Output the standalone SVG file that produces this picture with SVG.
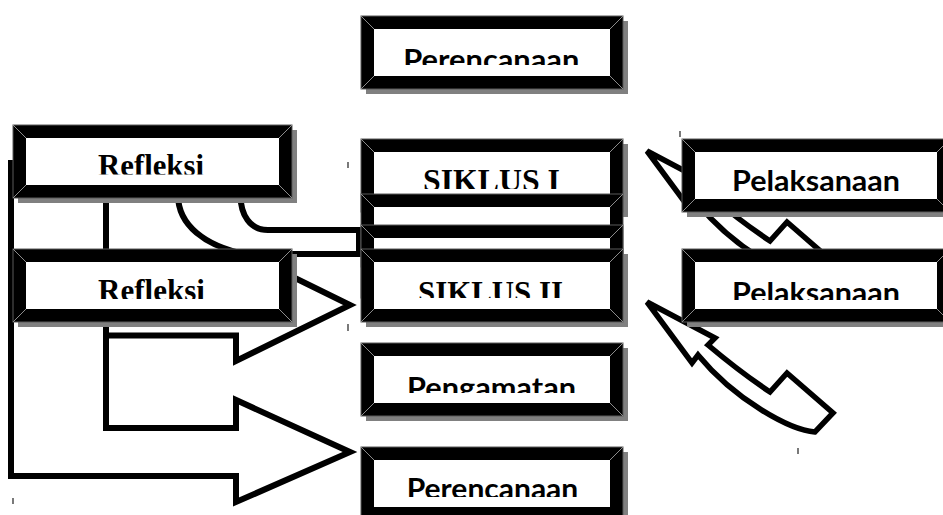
<svg xmlns="http://www.w3.org/2000/svg" width="943" height="515" viewBox="0 0 943 515">
<style>
.sh{fill:#808080}
.fr{fill:#000;stroke:#5a5a5a;stroke-width:1}
.in{fill:#fff}
.bv{stroke:#8c8c8c;stroke-width:1;fill:none}
.ar{fill:#fff;stroke:#000;stroke-width:6;stroke-linejoin:miter}
.ar2{fill:#fff;stroke:#000;stroke-width:5.5;stroke-linejoin:miter}
.sf{font-family:"Liberation Serif","Times New Roman",serif;font-weight:bold;font-size:31px;text-anchor:middle;fill:#000}
.ss{font-family:Lato,"Liberation Sans",sans-serif;font-weight:bold;font-size:29px;text-anchor:middle;fill:#000}
.tk{stroke:#333;stroke-width:1.3;fill:none}
</style>
<defs>
<clipPath id="cPer1"><rect x="374" y="29" width="236" height="36"/></clipPath>
<clipPath id="cRef1"><rect x="26" y="138" width="253" height="36.5"/></clipPath>
<clipPath id="cSik1"><rect x="374" y="152" width="236" height="37"/></clipPath>
<clipPath id="cSik2"><rect x="374" y="262" width="236" height="36"/></clipPath>
<clipPath id="cRef2"><rect x="26" y="262" width="253" height="37"/></clipPath>
<clipPath id="cPel1"><rect x="695" y="152" width="242" height="40"/></clipPath>
<clipPath id="cPel2"><rect x="695" y="262" width="242" height="38"/></clipPath>
<clipPath id="cPeng"><rect x="374" y="356" width="236" height="37"/></clipPath>
<clipPath id="cPer2"><rect x="374" y="460" width="236" height="37"/></clipPath>
<path id="curv" d="M647,302 L715,338 L708,345 Q740,372 770,392 L787,373 L833,413 L815,432 C790,430 735,400 698,355 L692,363 Z"/>
</defs>

<g id="connectors">
  <path id="arrowB" class="ar" d="M11,163 L106,163 L106,274.5 L236,274.5 L236,249 L350,305 L236,361 L236,335.5 L11,335.5 Z"/>
  <path id="arrowA" class="ar" d="M11,163 L106,163 L106,428 L236,428 L236,400 L350,452 L236,502 L236,476 L11,476 Z"/>
  <path id="arrowC" class="ar" d="M178,195 C178,225 205,246 245,254 L359,254 L359,230 L268,230 C250,230 240.5,215 240.5,195"/>
  <use id="arrowR1" href="#curv" class="ar2" transform="translate(0,-151)"/>
  <use id="arrowR2" href="#curv" class="ar2"/>
</g>

<g id="perencanaan1">
  <rect class="sh" x="366" y="21" width="262" height="73"/>
  <rect class="fr" x="361" y="16" width="262" height="73"/>
  <rect class="in" x="374" y="29" width="236" height="47"/>
  <path class="bv" d="M361,16l13,13M623,16l-13,13M361,89l13,-13M623,89l-13,-13"/>
  <text class="ss" x="491.3" y="69.8" textLength="176" lengthAdjust="spacingAndGlyphs" clip-path="url(#cPer1)">Perencanaan</text>
</g>

<g id="refleksi1">
  <rect class="sh" x="18" y="130" width="279" height="73"/>
  <rect class="fr" x="13" y="125" width="279" height="73"/>
  <rect class="in" x="26" y="138" width="253" height="47"/>
  <path class="bv" d="M13,125l13,13M292,125l-13,13M13,198l13,-13M292,198l-13,-13"/>
  <text class="sf" x="151" y="176" textLength="106" lengthAdjust="spacingAndGlyphs" clip-path="url(#cRef1)">Refleksi</text>
</g>

<g id="siklus1">
  <rect class="sh" x="366" y="144" width="262" height="73"/>
  <rect class="fr" x="361" y="139" width="262" height="73"/>
  <rect class="in" x="374" y="152" width="236" height="47"/>
  <path class="bv" d="M361,139l13,13M623,139l-13,13M361,212l13,-13M623,212l-13,-13"/>
  <text class="sf" x="491.5" y="190.5" textLength="137" lengthAdjust="spacingAndGlyphs" clip-path="url(#cSik1)">SIKLUS I</text>
</g>

<g id="pelaksanaan1">
  <rect class="sh" x="687" y="144" width="268" height="73"/>
  <rect class="fr" x="682" y="139" width="268" height="73"/>
  <rect class="in" x="695" y="152" width="242" height="47"/>
  <path class="bv" d="M682,139l13,13M950,139l-13,13M682,212l13,-13M950,212l-13,-13"/>
  <text class="ss" x="816" y="190.8" textLength="168" lengthAdjust="spacingAndGlyphs" clip-path="url(#cPel1)">Pelaksanaan</text>
</g>

<g id="boxA">
  <rect class="fr" x="361" y="194" width="262" height="73"/>
  <rect class="in" x="374" y="207" width="236" height="47"/>
  <path class="bv" d="M361,194l13,13M623,194l-13,13"/>
</g>

<g id="boxB">
  <rect class="fr" x="361" y="225" width="262" height="73"/>
  <rect class="in" x="374" y="238" width="236" height="47"/>
  <path class="bv" d="M361,225l13,13M623,225l-13,13"/>
</g>

<g id="siklus2">
  <rect class="sh" x="366" y="254" width="262" height="73"/>
  <rect class="fr" x="361" y="249" width="262" height="73"/>
  <rect class="in" x="374" y="262" width="236" height="47"/>
  <path class="bv" d="M361,249l13,13M623,249l-13,13M361,322l13,-13M623,322l-13,-13"/>
  <text class="sf" x="490.5" y="302.5" textLength="145" lengthAdjust="spacingAndGlyphs" clip-path="url(#cSik2)">SIKLUS II</text>
</g>

<g id="refleksi2">
  <rect class="sh" x="18" y="254" width="279" height="73"/>
  <rect class="fr" x="13" y="249" width="279" height="73"/>
  <rect class="in" x="26" y="262" width="253" height="47"/>
  <path class="bv" d="M13,249l13,13M292,249l-13,13M13,322l13,-13M292,322l-13,-13"/>
  <text class="sf" x="151.5" y="300.5" textLength="107" lengthAdjust="spacingAndGlyphs" clip-path="url(#cRef2)">Refleksi</text>
</g>

<g id="pelaksanaan2">
  <rect class="sh" x="687" y="254" width="268" height="73"/>
  <rect class="fr" x="682" y="249" width="268" height="73"/>
  <rect class="in" x="695" y="262" width="242" height="47"/>
  <path class="bv" d="M682,249l13,13M950,249l-13,13M682,322l13,-13M950,322l-13,-13"/>
  <text class="ss" x="816" y="302.8" textLength="168" lengthAdjust="spacingAndGlyphs" clip-path="url(#cPel2)">Pelaksanaan</text>
</g>

<g id="pengamatan">
  <rect class="sh" x="366" y="348" width="262" height="73"/>
  <rect class="fr" x="361" y="343" width="262" height="73"/>
  <rect class="in" x="374" y="356" width="236" height="47"/>
  <path class="bv" d="M361,343l13,13M623,343l-13,13M361,416l13,-13M623,416l-13,-13"/>
  <text class="ss" x="491.5" y="397.8" textLength="169" lengthAdjust="spacingAndGlyphs" clip-path="url(#cPeng)">Pengamatan</text>
</g>

<g id="perencanaan2">
  <rect class="sh" x="366" y="452" width="262" height="73"/>
  <rect class="fr" x="361" y="447" width="262" height="73"/>
  <rect class="in" x="374" y="460" width="236" height="47"/>
  <path class="bv" d="M361,447l13,13M623,447l-13,13"/>
  <text class="ss" x="492.5" y="498.8" textLength="171.5" lengthAdjust="spacingAndGlyphs" clip-path="url(#cPer2)">Perencanaan</text>
</g>

<path class="tk" d="M348,162v6M348,324v7M680,131v6M798,448v6M13,498v6"/>
</svg>
